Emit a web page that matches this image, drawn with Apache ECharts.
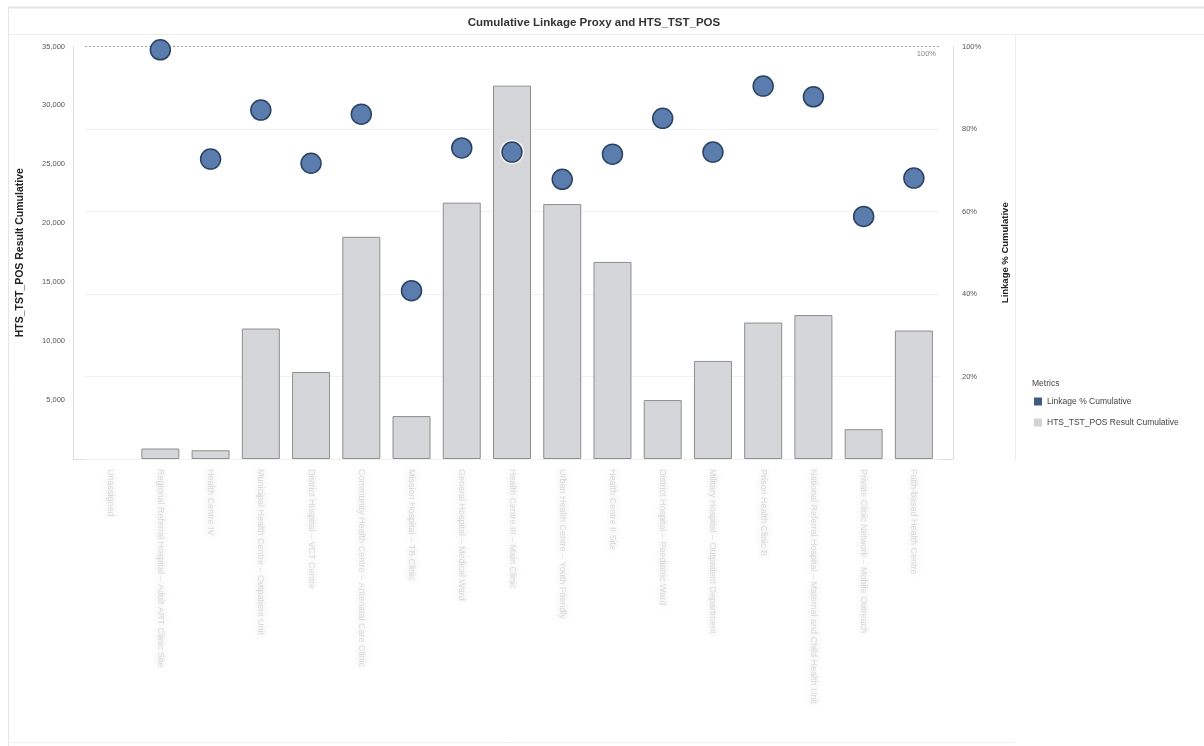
<!DOCTYPE html>
<html>
<head>
<meta charset="utf-8">
<script src="https://cdn.jsdelivr.net/npm/echarts@6/dist/echarts.min.js"></script>
<style>
  html, body { margin: 0; padding: 0; background: #ffffff; }
  #chart { width: 1204px; height: 746px; }
</style>
</head>
<body>
<div id="chart"></div>
<script>
// ---- Data (category names are blurred in the source) ----
const categories = [
  "Unassigned",
  "Regional Referral Hospital – Adult ART Clinic Site",
  "Health Centre IV",
  "Municipal Health Centre – Outpatient Unit",
  "District Hospital – VCT Centre",
  "Community Health Centre – Antenatal Care Clinic",
  "Mission Hospital – TB Clinic",
  "General Hospital – Medical Ward",
  "Health Centre III – Main Clinic",
  "Urban Health Centre – Youth Friendly",
  "Health Centre II Site",
  "District Hospital – Paediatric Ward",
  "Military Hospital – Outpatient Department",
  "Prison Health Clinic B",
  "National Referral Hospital – Maternal and Child Health Unit",
  "Private Clinic Network – Mobile Outreach",
  "Faith-based Health Centre"
];
const htsTstPosCumulative = [null, 890, 740, 11070, 7380, 18850, 3640, 21750, 31680, 21630, 16720, 5000, 8320, 11580, 12210, 2530, 10900];
const linkagePctCumulative = [null, 99.2, 72.7, 84.6, 71.7, 83.6, 40.8, 75.4, 74.4, 67.8, 73.9, 82.6, 74.4, 90.4, 87.8, 58.8, 68.1];
const leftTicks = { min: 0, max: 35000, interval: 5000 };
const rightTicks = { min: 0, max: 100, interval: 20 };
const referenceLine = 100;

const chart = echarts.init(document.getElementById('chart'), null, { renderer: 'canvas' });
const FONT = '"Liberation Sans", Arial, sans-serif';
const frame = '#dcdcdc';

const option = {
  backgroundColor: '#ffffff',
  animation: false,
  textStyle: { fontFamily: FONT },
  title: [
    {
      text: 'Cumulative Linkage Proxy and HTS_TST_POS',
      left: 589, top: 12, textAlign: 'center',
      textStyle: { fontSize: 11.5, fontWeight: 'bold', color: '#333', fontFamily: FONT }
    },
    {
      text: 'Metrics',
      left: 1027, top: 374,
      textStyle: { fontSize: 8.5, fontWeight: 'normal', color: '#444', fontFamily: FONT }
    }
  ],
  legend: {
    orient: 'vertical',
    left: 1029, top: 392,
    itemWidth: 8, itemHeight: 8, itemGap: 12,
    icon: 'rect',
    textStyle: { fontSize: 8.5, color: '#444', fontFamily: FONT },
    data: [
      { name: 'Linkage % Cumulative', itemStyle: { color: '#3e5a80', borderWidth: 0, opacity: 1 } },
      { name: 'HTS_TST_POS Result Cumulative', itemStyle: { color: '#d3d3d6', borderWidth: 0 } }
    ]
  },
  grid: { left: 85, right: 265, top: 46.5, bottom: 287, containLabel: false },
  xAxis: {
    type: 'category',
    data: categories,
    axisLine: { show: false },
    axisTick: { show: false },
    axisLabel: {
      interval: 0,
      rotate: -90,
      margin: 10,
      fontSize: 9,
      color: 'rgba(150,150,150,0.3)',
      textShadowColor: 'rgba(110,110,110,0.9)',
      textShadowBlur: 6,
      fontFamily: FONT
    }
  },
  yAxis: [
    {
      type: 'value',
      position: 'left',
      offset: 12,
      min: leftTicks.min, max: leftTicks.max, interval: leftTicks.interval,
      name: 'HTS_TST_POS Result Cumulative',
      nameLocation: 'middle',
      nameGap: 47,
      nameTextStyle: { fontSize: 10.5, fontWeight: 'bold', color: '#222', fontFamily: FONT },
      axisLine: { show: true, lineStyle: { color: frame } },
      axisTick: { show: false },
      splitLine: { show: false },
      axisLabel: {
        showMinLabel: false,
        fontSize: 7.5, color: '#555', margin: 8,
        formatter: v => v.toLocaleString('en-US')
      }
    },
    {
      type: 'value',
      position: 'right',
      offset: 14,
      min: rightTicks.min, max: rightTicks.max, interval: rightTicks.interval,
      name: 'Linkage % Cumulative',
      nameLocation: 'middle',
      nameRotate: 90,
      nameGap: 47,
      nameTextStyle: { fontSize: 9.5, fontWeight: 'bold', color: '#222', fontFamily: FONT },
      axisLine: { show: true, lineStyle: { color: frame } },
      axisTick: { show: false },
      splitLine: { show: true, lineStyle: { color: '#f1f1f1', width: 1 } },
      axisLabel: {
        showMinLabel: false,
        fontSize: 7.5, color: '#555', margin: 9,
        formatter: '{value}%'
      }
    }
  ],
  series: [
    {
      name: 'HTS_TST_POS Result Cumulative',
      type: 'bar',
      yAxisIndex: 0,
      data: htsTstPosCumulative,
      barWidth: 38,
      itemStyle: { color: '#d5d6da', borderColor: '#8e8e8e', borderWidth: 1 },
      z: 2
    },
    {
      // white halo behind each circle (visible where a circle sits on a bar)
      name: 'halo',
      type: 'scatter',
      yAxisIndex: 1,
      data: linkagePctCumulative,
      symbol: 'circle',
      symbolSize: 24,
      silent: true,
      itemStyle: { color: '#ffffff', opacity: 1 },
      z: 4
    },
    {
      name: 'Linkage % Cumulative',
      type: 'scatter',
      yAxisIndex: 1,
      data: linkagePctCumulative,
      symbol: 'circle',
      symbolSize: 20,
      itemStyle: {
        color: '#5b7dad',
        borderColor: '#2b4263',
        borderWidth: 1.5,
        opacity: 1
      },
      z: 5,
      markLine: {
        silent: true,
        symbol: ['none', 'none'],
        lineStyle: { color: '#a8a8a8', type: [2, 2], width: 1 },
        label: {
          show: true,
          position: 'insideEndBottom',
          formatter: '100%',
          fontSize: 7.5,
          color: '#888',
          distance: 3
        },
        data: [{ yAxis: referenceLine }]
      }
    }
  ],
  graphic: [
    // decorative dashboard frame lines
    { type: 'line', shape: { x1: 8, y1: 7.5, x2: 1204, y2: 7.5 }, style: { stroke: '#e2e2e2', lineWidth: 2 }, silent: true },
    { type: 'line', shape: { x1: 8, y1: 34.5, x2: 1204, y2: 34.5 }, style: { stroke: '#ececec', lineWidth: 1 }, silent: true },
    { type: 'line', shape: { x1: 8.5, y1: 7, x2: 8.5, y2: 746 }, style: { stroke: '#e6e6e6', lineWidth: 1 }, silent: true },
    { type: 'line', shape: { x1: 73, y1: 459.5, x2: 953, y2: 459.5 }, style: { stroke: frame, lineWidth: 1 }, silent: true },
    { type: 'line', shape: { x1: 1015.5, y1: 35, x2: 1015.5, y2: 460 }, style: { stroke: '#ececec', lineWidth: 1 }, silent: true },
    { type: 'line', shape: { x1: 8, y1: 742.5, x2: 1015, y2: 742.5 }, style: { stroke: '#f0f0f0', lineWidth: 1 }, silent: true }
  ]
};

chart.setOption(option);
</script>
</body>
</html>
